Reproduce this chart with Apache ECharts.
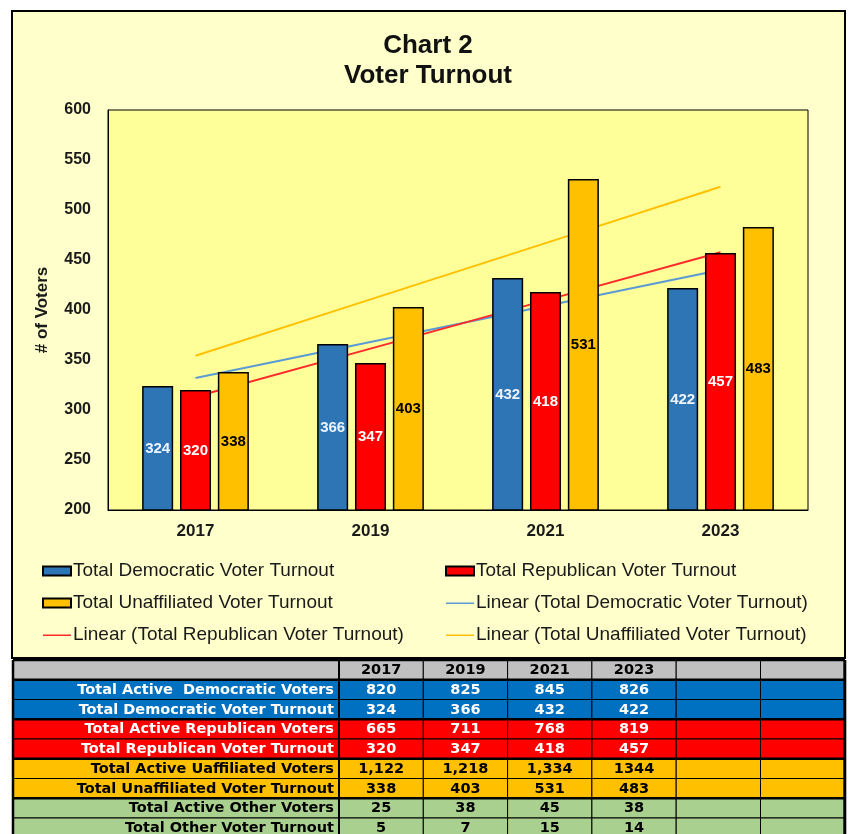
<!DOCTYPE html>
<html>
<head>
<meta charset="utf-8">
<script src="https://cdn.jsdelivr.net/npm/echarts@6/dist/echarts.min.js"></script>
<style>
html,body{margin:0;padding:0;background:#fff;}
#chart{width:850px;height:834px;}
</style>
</head>
<body>
<div id="chart"></div>
<script>
// ---------- data ----------
const years = ['2017', '2019', '2021', '2023'];
const demTurnout = [324, 366, 432, 422];
const repTurnout = [320, 347, 418, 457];
const unaTurnout = [338, 403, 531, 483];
const seriesNames = ['Total Democratic Voter Turnout', 'Total Republican Voter Turnout', 'Total Unaffiliated Voter Turnout'];
const trendNames = ['Linear (Total Democratic Voter Turnout)', 'Linear (Total Republican Voter Turnout)', 'Linear (Total Unaffiliated Voter Turnout)'];

// data table
const tableHeader = ['2017', '2019', '2021', '2023', '', ''];
const rowLabels = [
  'Total Active  Democratic Voters',
  'Total Democratic Voter Turnout',
  'Total Active Republican Voters',
  'Total Republican Voter Turnout',
  'Total Active Uaffiliated Voters',
  'Total Unaffiliated Voter Turnout',
  'Total Active Other Voters',
  'Total Other Voter Turnout'
];
const activeDem = ['820', '825', '845', '826'];
const turnoutDem = ['324', '366', '432', '422'];
const activeRep = ['665', '711', '768', '819'];
const turnoutRep = ['320', '347', '418', '457'];
const activeUna = ['1,122', '1,218', '1,334', '1344'];
const turnoutUna = ['338', '403', '531', '483'];
const activeOther = ['25', '38', '45', '38'];
const turnoutOther = ['5', '7', '15', '14'];
const tableRows = [activeDem, turnoutDem, activeRep, turnoutRep, activeUna, turnoutUna, activeOther, turnoutOther];

// ---------- styles ----------
const FONT = '"Liberation Sans", Arial, sans-serif';
const TFONT = '"DejaVu Sans", Verdana, sans-serif';
const barColors = ['#2E75B6', '#FF0000', '#FFC000'];
const trendColors = ['#5B9BD5', '#FF2A2A', '#FFC000'];
const labelColors = ['#EEF4FF', '#FFFFFF', '#000000'];
const rowFill = ['#0070C0', '#0070C0', '#FF0000', '#FF0000', '#FFC000', '#FFC000', '#A9D08E', '#A9D08E'];
const rowText = ['#FFFFFF', '#FFFFFF', '#FFFFFF', '#FFFFFF', '#000000', '#000000', '#000000', '#000000'];
// legend icon for trend lines: a thin horizontal stroke centred in the icon box
const LINE_ICON = 'path://M0,0L0.01,0L0,0.01Z M0,4L28,4L28,5.6L0,5.6Z M27.99,9L28,9L28,8.99Z';

// linear regression trend (Excel "Linear" trendline) from the series values
function linearTrend(vals) {
  const n = vals.length;
  let sx = 0, sy = 0, sxy = 0, sxx = 0;
  vals.forEach((v, i) => { sx += i; sy += v; sxy += i * v; sxx += i * i; });
  const b = (n * sxy - sx * sy) / (n * sxx - sx * sx);
  const a = (sy - b * sx) / n;
  return vals.map((v, i) => +(a + b * i).toFixed(2));
}

const barData = [demTurnout, repTurnout, unaTurnout];

const series = [];
barData.forEach((d, k) => {
  series.push({
    name: seriesNames[k],
    type: 'bar',
    data: d,
    z: 3,
    barGap: '22%',
    barCategoryGap: '39%',
    itemStyle: { color: barColors[k], borderColor: '#000', borderWidth: 1.5 },
    label: {
      show: true, position: 'inside',
      color: labelColors[k], fontFamily: FONT, fontWeight: 'bold', fontSize: 15
    }
  });
});
barData.forEach((d, k) => {
  series.push({
    name: trendNames[k],
    type: 'line',
    data: linearTrend(d),
    z: 1,
    symbol: 'none',
    silent: true,
    lineStyle: { color: trendColors[k], width: 2 },
    itemStyle: { color: trendColors[k] }
  });
});

// ---------- table graphics ----------
const tblLeft = 13, labelRight = 339, colW = 84.3, tblTop = 660, rowH = 19.75;
const elements = [];
// chart box
elements.push({
  type: 'rect', z: -10, silent: true,
  shape: { x: 12, y: 11, width: 833, height: 647 },
  style: { fill: '#FFFFCC', stroke: '#000', lineWidth: 2 }
});
const allRows = [null].concat(tableRows);
allRows.forEach((row, r) => {
  const y = tblTop + r * rowH;
  const fill = r === 0 ? '#C0C0C0' : rowFill[r - 1];
  const tcol = r === 0 ? '#000' : rowText[r - 1];
  elements.push({
    type: 'rect', z: 10, silent: true,
    shape: { x: tblLeft, y: y, width: labelRight - tblLeft, height: rowH },
    style: { fill: fill, stroke: '#000', lineWidth: 1 }
  });
  if (r > 0) {
    elements.push({
      type: 'text', z: 11, silent: true,
      style: { x: labelRight - 5, y: y + rowH / 2 + 0.5, text: rowLabels[r - 1], align: 'right', verticalAlign: 'middle',
        font: 'bold 14.5px ' + TFONT, fill: tcol }
    });
  }
  for (let c = 0; c < 6; c++) {
    const x = labelRight + c * colW;
    elements.push({
      type: 'rect', z: 10, silent: true,
      shape: { x: x, y: y, width: colW, height: rowH },
      style: { fill: fill, stroke: '#000', lineWidth: 1 }
    });
    const txt = r === 0 ? tableHeader[c] : (row[c] || '');
    if (txt) {
      elements.push({
        type: 'text', z: 11, silent: true,
        style: { x: x + colW / 2, y: y + rowH / 2 + 0.5, text: txt, align: 'center', verticalAlign: 'middle',
          font: 'bold 14.5px ' + TFONT, fill: tcol }
      });
    }
  }
});
[0, 1, 3, 5, 7].forEach(r => {
  const y = tblTop + r * rowH;
  elements.push({
    type: 'line', z: 12, silent: true,
    shape: { x1: tblLeft, y1: y, x2: labelRight + 6 * colW, y2: y },
    style: { stroke: '#000', lineWidth: 2.5 }
  });
});
elements.push({ type: 'line', z: 12, silent: true, shape: { x1: tblLeft, y1: tblTop, x2: tblLeft, y2: 834 }, style: { stroke: '#000', lineWidth: 2.5 } });
elements.push({ type: 'line', z: 12, silent: true, shape: { x1: labelRight + 6 * colW, y1: tblTop, x2: labelRight + 6 * colW, y2: 834 }, style: { stroke: '#000', lineWidth: 3 } });
elements.push({ type: 'line', z: 12, silent: true, shape: { x1: labelRight, y1: tblTop, x2: labelRight, y2: 834 }, style: { stroke: '#000', lineWidth: 2 } });

const legendText = { fontFamily: FONT, fontSize: 19, lineHeight: 20, color: '#1a1a1a', padding: [0, 0, 0, -3] };

const chart = echarts.init(document.getElementById('chart'), null, { renderer: 'canvas' });
chart.setOption({
  backgroundColor: '#FFFFFF',
  animation: false,
  title: {
    text: 'Chart 2\nVoter Turnout',
    left: 428, top: 31, padding: 0, textAlign: 'center',
    textStyle: { fontFamily: FONT, fontWeight: 'bold', fontSize: 26, lineHeight: 30, color: '#111' }
  },
  graphic: { elements: elements },
  grid: {
    left: 108, top: 110, width: 700, height: 400,
    show: true, backgroundColor: '#FFFF99', borderColor: '#000', borderWidth: 1
  },
  legend: [
    {
      left: 42, top: 561, orient: 'vertical', itemGap: 12, padding: 0,
      itemWidth: 28, itemHeight: 9,
      data: [
        { name: seriesNames[0], icon: 'rect' },
        { name: seriesNames[2], icon: 'rect' },
        { name: trendNames[1], icon: LINE_ICON }
      ],
      textStyle: legendText
    },
    {
      left: 445, top: 561, orient: 'vertical', itemGap: 12, padding: 0,
      itemWidth: 28, itemHeight: 9,
      data: [
        { name: seriesNames[1], icon: 'rect' },
        { name: trendNames[0], icon: LINE_ICON },
        { name: trendNames[2], icon: LINE_ICON }
      ],
      textStyle: legendText
    }
  ],
  xAxis: {
    type: 'category', data: years,
    axisLine: { lineStyle: { color: '#000', width: 1 } },
    axisTick: { show: false },
    axisLabel: { margin: 13, fontFamily: FONT, fontWeight: 'bold', fontSize: 17, color: '#1a1a1a' }
  },
  yAxis: {
    type: 'value', min: 200, max: 600, interval: 50,
    name: '# of Voters', nameLocation: 'middle', nameGap: 57, nameRotate: 90,
    nameTextStyle: { fontFamily: FONT, fontWeight: 'bold', fontSize: 17, color: '#1a1a1a' },
    splitLine: { show: false },
    axisLine: { show: true, lineStyle: { color: '#000', width: 1 } },
    axisTick: { show: false },
    axisLabel: { margin: 17, fontFamily: FONT, fontWeight: 'bold', fontSize: 16, color: '#1a1a1a' }
  },
  series: series
});
</script>
</body>
</html>
